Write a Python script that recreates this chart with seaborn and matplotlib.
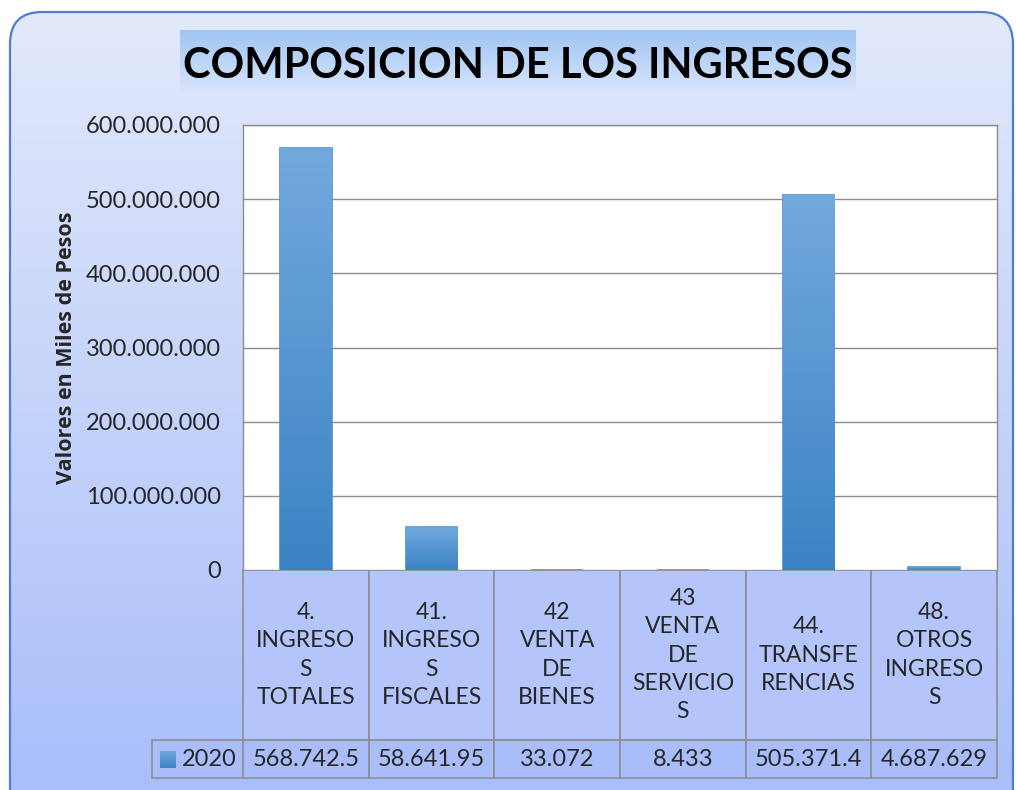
import numpy as np
import pandas as pd
import seaborn as sns
import matplotlib.pyplot as plt
from matplotlib.patches import FancyBboxPatch, Rectangle
from matplotlib.colors import LinearSegmentedColormap

# datos del grafico
categorias = ['4', '41', '42', '43', '44', '48']
etiquetas = ['4.\nINGRESO\nS\nTOTALES', '41.\nINGRESO\nS\nFISCALES', '42\nVENTA\nDE\nBIENES',
             '43\nVENTA\nDE\nSERVICIO\nS', '44.\nTRANSFE\nRENCIAS', '48.\nOTROS\nINGRESO\nS']
valores = [568742500, 58641950, 33072, 8433, 505371400, 4687629]
valores_tabla = ['568.742.5', '58.641.95', '33.072', '8.433', '505.371.4', '4.687.629']
serie = '2020'
yticks = [0, 100000000, 200000000, 300000000, 400000000, 500000000, 600000000]
titulo = 'COMPOSICION DE LOS INGRESOS'
ylabel = 'Valores en Miles de Pesos'

W, H = 1016, 790
sns.set_style('white')
plt.rcParams['font.family'] = ['Lato', 'DejaVu Sans']

fig = plt.figure(figsize=(W / 100, H / 100), dpi=100)
fig.patch.set_facecolor('white')

# fondo con degradado y borde redondeado
bg = fig.add_axes([0, 0, 1, 1], zorder=-10)
bg.set_xlim(0, W)
bg.set_ylim(H, 0)
bg.axis('off')
grad = np.linspace(0, 1, 256).reshape(-1, 1)
cmap_fondo = LinearSegmentedColormap.from_list('fondo', ['#e2e9fb', '#a6bcfa'])
marco = FancyBboxPatch((10, 12), 1003, 820, boxstyle='round,pad=0,rounding_size=32',
                       facecolor='none', edgecolor='#4f7ccf', lw=1.6, zorder=2)
bg.add_patch(marco)
im = bg.imshow(grad, extent=[10, 1013, 832, 12], cmap=cmap_fondo, aspect='auto', zorder=1)
im.set_clip_path(marco)

# caja del titulo
cmap_titulo = LinearSegmentedColormap.from_list('titulo', ['#9ec5f4', '#dde7fb'])
bg.imshow(grad, extent=[180, 856, 97, 30], cmap=cmap_titulo, aspect='auto', zorder=3)
bg.text(518, 66, titulo, ha='center', va='center', fontsize=30, fontweight='bold', color='black', zorder=4)

# area de grafico
ax_l, ax_r, ax_t, ax_b = 243, 997, 125, 570
ax = fig.add_axes([ax_l / W, 1 - ax_b / H, (ax_r - ax_l) / W, (ax_b - ax_t) / H])
ax.set_facecolor('white')
df = pd.DataFrame({'categoria': categorias, 'valor': valores})
sns.barplot(data=df, x='categoria', y='valor', color='#4a8ccb', width=0.41, ax=ax, zorder=3)

cmap_barra = LinearSegmentedColormap.from_list('barra', ['#72a9dd', '#3b83c4'])
for p in ax.patches:
    x0, y0, w, h = p.get_x(), p.get_y(), p.get_width(), p.get_height()
    p.set_edgecolor('#4f8fcc')
    p.set_linewidth(1.2)
    bi = ax.imshow(grad, extent=[x0, x0 + w, y0, y0 + h], origin='upper', cmap=cmap_barra,
                   aspect='auto', zorder=4)
    bi.set_clip_path(p)

ax.set_xlim(-0.5, len(categorias) - 0.5)
ax.set_ylim(0, 600000000)
ax.set_yticks(yticks)
ax.set_yticklabels([f'{v:,}'.replace(',', '.') for v in yticks])
ax.set_xticks([])
ax.set_xlabel('')
ax.yaxis.grid(True, color='#8c8c8c', lw=1)
ax.set_axisbelow(True)
ax.tick_params(axis='y', length=0, pad=16, labelsize=17)
ax.set_ylabel(ylabel, fontsize=15.5, fontweight='bold', labelpad=6,
              family=['Open Sans', 'DejaVu Sans'])
for s in ['left', 'top', 'right']:
    ax.spines[s].set_color('#8c8c8c')
    ax.spines[s].set_linewidth(1)
ax.spines['bottom'].set_visible(False)

# tabla de datos
borde = '#8e8e8e'
col_w = (ax_r - ax_l) / len(categorias)
fila1_t, fila1_b, fila2_b = 570, 740, 778
for i, (et, val) in enumerate(zip(etiquetas, valores_tabla)):
    x0 = ax_l + i * col_w
    bg.add_patch(Rectangle((x0, fila1_t), col_w, fila1_b - fila1_t, facecolor='#b3c5fb',
                           edgecolor=borde, lw=1.2, zorder=5))
    bg.add_patch(Rectangle((x0, fila1_b), col_w, fila2_b - fila1_b, facecolor='#a9bdfa',
                           edgecolor=borde, lw=1.2, zorder=5))
    bg.text(x0 + col_w / 2, (fila1_t + fila1_b) / 2, et, ha='center', va='center', fontsize=16.5,
            linespacing=1.42, zorder=6)
    bg.text(x0 + col_w / 2, (fila1_b + fila2_b) / 2 + 1, val, ha='center', va='center', fontsize=17,
            zorder=6)

# celda de leyenda
bg.add_patch(Rectangle((152, fila1_b), ax_l - 152, fila2_b - fila1_b, facecolor='#a9bdfa',
                       edgecolor=borde, lw=1.2, zorder=5))
bg.imshow(grad, extent=[160, 176, 768, 751], cmap=cmap_barra, aspect='auto', zorder=6)
bg.text(182, (fila1_b + fila2_b) / 2 + 1, serie, ha='left', va='center', fontsize=17, zorder=6)

fig.savefig('out.png', dpi=100)
